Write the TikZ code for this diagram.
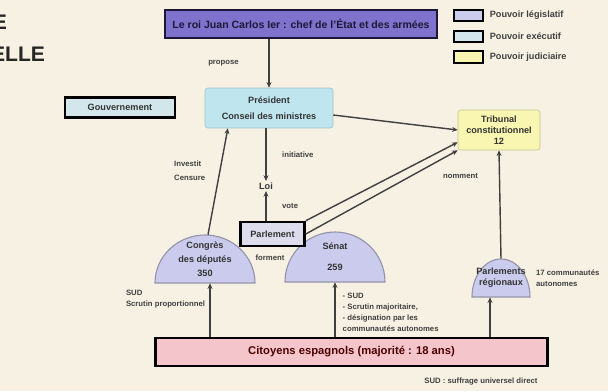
\documentclass[tikz,border=0pt]{standalone}
\usepackage{fontspec}
\setmainfont{Liberation Sans}
\usetikzlibrary{arrows.meta,positioning,calc}

\definecolor{fond}{HTML}{F7F1E3}
\definecolor{roi}{HTML}{7F72CC}
\definecolor{roibord}{HTML}{1E1838}
\definecolor{exec}{HTML}{BFE5EF}
\definecolor{execbord}{HTML}{A4C2CA}
\definecolor{gouv}{HTML}{D2E6EC}
\definecolor{jaune}{HTML}{F8F6B0}
\definecolor{jaunebord}{HTML}{C6C48E}
\definecolor{legis}{HTML}{CBCBEE}
\definecolor{domebord}{HTML}{9494AA}
\definecolor{parlfond}{HTML}{DCDCEC}
\definecolor{rose}{HTML}{F4C6CB}

\begin{document}
\begin{tikzpicture}[x=0.025cm,y=-0.025cm,
    txt/.style={font=\fontsize{6.5}{8}\selectfont\bfseries, text=black!80, align=center, inner sep=1pt},
    lbl/.style={font=\fontsize{5.5}{8}\selectfont\bfseries, text=black!75, align=left, inner sep=1pt},
    cadre/.style={txt, draw=black, line width=1.8pt},
    swatch/.style={draw=black, line width=1.5pt, minimum width=0.72cm, minimum height=0.28cm, inner sep=0pt},
    arr/.style={draw=black!75, line width=1pt, -{Stealth[length=4pt,width=3.5pt]}},
    dome/.style={fill=legis, draw=domebord, line width=0.8pt},
    titre/.style={font=\fontsize{15}{18}\selectfont\bfseries, text=black!85, anchor=east}]
  \fill[fond] (0,0) rectangle (608,391);
  \useasboundingbox (0,0) rectangle (608,391);

  \node[titre] (titre1) at (12,22) {UNE MONARCHIE};
  \node[titre] (titre2) at (50,54) {CONSTITUTIONNELLE};

  \node[txt, font=\fontsize{7.5}{9}\selectfont\bfseries, draw=roibord, line width=1.8pt, fill=roi, text=roibord, minimum width=6.8cm, minimum height=0.7cm] (roi) at (301,24) {Le roi Juan Carlos Ier : chef de l'État et des armées};

  \node[swatch, fill=legis] (leg1) at (468.5,15.5) {};
  \node[swatch, fill=gouv] (leg2) at (468.5,36.5) {};
  \node[swatch, fill=jaune] (leg3) at (468.5,57) {};
  \node[lbl, font=\fontsize{6.5}{8}\selectfont\bfseries, right=3pt of leg1] {Pouvoir législatif};
  \node[lbl, font=\fontsize{6.5}{8}\selectfont\bfseries, right=3pt of leg2] {Pouvoir exécutif};
  \node[lbl, font=\fontsize{6.5}{8}\selectfont\bfseries, right=3pt of leg3] {Pouvoir judiciaire};

  \node[txt, draw=execbord, rounded corners=2pt, fill=exec, minimum width=3.2cm, minimum height=1cm] (exec) at (269,108) {Président\\[3pt]Conseil des ministres};
  \node[cadre, fill=gouv, minimum width=2.75cm, minimum height=0.5cm] (gouv) at (120,107.5) {Gouvernement};
  \node[txt, draw=jaunebord, rounded corners=2pt, fill=jaune, minimum width=2.05cm, minimum height=1cm] (tc) at (499,130) {Tribunal\\constitutionnel\\12};
  \node[txt] (loi) at (266,186) {Loi};

  \filldraw[dome] (155,283) arc[start angle=180, end angle=360, x radius=50, y radius=48] -- cycle;
  \filldraw[dome] (285,282) arc[start angle=180, end angle=360, x radius=50, y radius=50] -- cycle;
  \filldraw[dome] (472,297) arc[start angle=180, end angle=360, x radius=29, y radius=38] -- cycle;
  \node[txt, minimum width=2.5cm, minimum height=1.2cm] (congres) at (205,259) {Congrès\\[2pt]des députés\\[2pt]350};
  \node[txt, minimum width=2.5cm, minimum height=1.25cm] (senat) at (335,257) {Sénat\\[7pt]259};
  \node[txt, minimum width=1.45cm, minimum height=0.95cm] (parlreg) at (501,278) {Parlements\\régionaux};
  \node[lbl, right=3pt of parlreg] (autonomes) {17 communautés\\autonomes};

  \node[cadre, fill=parlfond, minimum width=1.6cm, minimum height=0.6cm] (parl) at (272.5,234) {Parlement};
  \node[lbl] (forment) at (270,258) {forment};

  \node[cadre, fill=rose, text=black!70!red, font=\fontsize{8}{9}\selectfont\bfseries, minimum width=9.8cm, minimum height=0.7cm] (citoyens) at (351.5,352) {Citoyens espagnols (majorité : 18 ans)};
  \node[lbl] (sud) at (481,382) {SUD : suffrage universel direct};

  \draw[arr] (exec.north |- roi.south) -- (exec.north) node[lbl, midway, left=20pt] {propose};
  \draw[arr] (exec.south -| loi) -- (loi.north) node[lbl, midway, right=10pt] {initiative};
  \draw[arr] (loi.south |- parl.north) -- (loi.south) node[lbl, midway, right=10pt] {vote};
  \draw[arr] ($(congres.north)+(3,0)$) -- ($(exec.south west)!0.18!(exec.south east)$) node[lbl, pos=0.6, left=9pt] {Investit\\[2pt]Censure};
  \draw[arr] ($(exec.east)+(0,7)$) -- (tc.west);
  \draw[arr] (parl.north east) -- ($(tc.south west)+(0,-8)$);
  \draw[arr] (parl.east) -- (tc.south west) node[lbl, at end, anchor=north, xshift=2pt, yshift=-15pt] {nomment};
  \draw[arr] (parlreg.north) -- (tc.south);
  \draw[arr] ($(citoyens.north -| congres.south)+(5,0)$) -- ($(congres.south)+(5,0)$) node[lbl, pos=0.7, left=2pt] {SUD\\Scrutin proportionnel};
  \draw[arr] (citoyens.north -| senat.south) -- (senat.south) node[lbl, pos=0.45, right=4pt] {- SUD\\- Scrutin majoritaire,\\- désignation par les\\communautés autonomes};
  \draw[arr] ($(citoyens.north -| parlreg.south)+(-11,0)$) -- ($(parlreg.south)+(-11,0)$);
\end{tikzpicture}
\end{document}
